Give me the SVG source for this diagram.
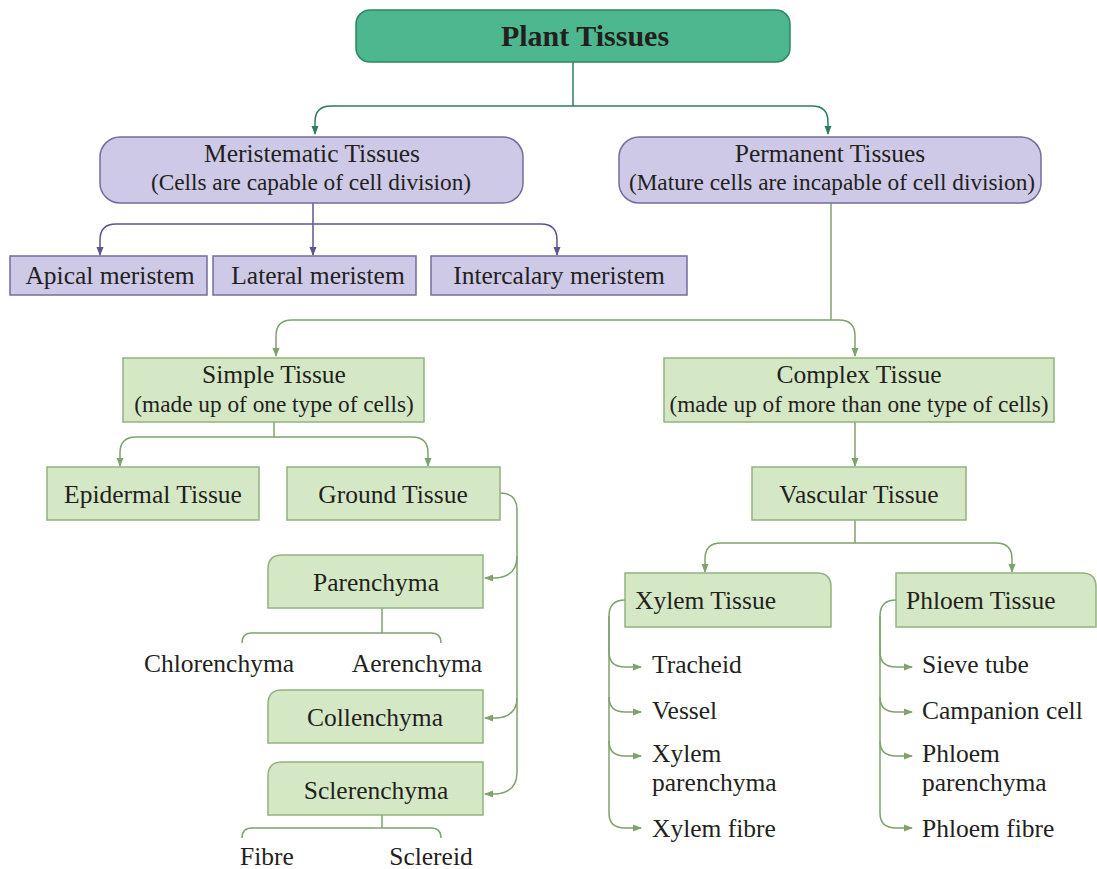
<svg xmlns="http://www.w3.org/2000/svg" width="1097" height="869" viewBox="0 0 1097 869">
<defs>
<style>
text{font-family:"Liberation Serif","Times New Roman",serif;fill:#231f20;font-size:25.5px}
.c{text-anchor:middle}
.sub{font-size:23.3px}
.title{font-weight:bold;font-size:30px}
.lav{fill:#cdc9e6;stroke:#736d9d;stroke-width:1.5}
.grn{fill:#d5e8c5;stroke:#92b27f;stroke-width:1.5}
.top{fill:#4db88f;stroke:#2d8664;stroke-width:1.5}
.lt{fill:none;stroke:#2e7d5e;stroke-width:1.5}
.lp{fill:none;stroke:#5a5690;stroke-width:1.5}
.lg{fill:none;stroke:#7fa36c;stroke-width:1.5}
</style>
<marker id="at" markerWidth="10" markerHeight="10" refX="8" refY="5" orient="auto" markerUnits="userSpaceOnUse"><path d="M0,1.5 L9,5 L0,8.5 Z" fill="#2e7d5e"/></marker>
<marker id="ap" markerWidth="10" markerHeight="10" refX="8" refY="5" orient="auto" markerUnits="userSpaceOnUse"><path d="M0,1.5 L9,5 L0,8.5 Z" fill="#5a5690"/></marker>
<marker id="ag" markerWidth="10" markerHeight="10" refX="8" refY="5" orient="auto" markerUnits="userSpaceOnUse"><path d="M0,1.5 L9,5 L0,8.5 Z" fill="#7fa36c"/></marker>
</defs>
<rect width="1097" height="869" fill="#ffffff"/>

<g id="connectors">
<path class="lt" d="M573,62 V106"/>
<path class="lt" d="M573,106 H331 Q315,106 315,122 V134" marker-end="url(#at)"/>
<path class="lt" d="M573,106 H812 Q828,106 828,122 V134" marker-end="url(#at)"/>

<path class="lp" d="M313,203 V255" marker-end="url(#ap)"/>
<path class="lp" d="M313,224 H116 Q100,224 100,240 V255" marker-end="url(#ap)"/>
<path class="lp" d="M313,224 H541 Q557,224 557,240 V255" marker-end="url(#ap)"/>

<path class="lg" d="M831,203 V320"/>
<path class="lg" d="M831,320 H292 Q276,320 276,336 V356" marker-end="url(#ag)"/>
<path class="lg" d="M831,320 H839 Q855,320 855,336 V356" marker-end="url(#ag)"/>

<path class="lg" d="M274,422 V437"/>
<path class="lg" d="M274,437 H136 Q120,437 120,453 V466" marker-end="url(#ag)"/>
<path class="lg" d="M274,437 H412 Q428,437 428,453 V466" marker-end="url(#ag)"/>

<path class="lg" d="M855,422 V466" marker-end="url(#ag)"/>

<path class="lg" d="M855,520 V543"/>
<path class="lg" d="M855,543 H721 Q705,543 705,559 V572" marker-end="url(#ag)"/>
<path class="lg" d="M855,543 H996 Q1012,543 1012,559 V572" marker-end="url(#ag)"/>

<path class="lg" d="M500,493 Q517,493 517,510 V772 Q517,792 497,794 L485,794" marker-end="url(#ag)"/>
<path class="lg" d="M517,556 Q517,576 497,578 L485,578" marker-end="url(#ag)"/>
<path class="lg" d="M517,698 Q517,716 497,718 L485,718" marker-end="url(#ag)"/>

<path class="lg" d="M382,608 V633 M382,633 H252 Q242,633 242,643 M382,633 H431 Q441,633 441,643"/>
<path class="lg" d="M382,815 V828 M382,828 H252 Q242,828 242,838 M382,828 H431 Q441,828 441,838"/>

<path class="lg" d="M625,600 Q609,600 609,616 V650"/>
<path class="lg" d="M609,616 V652 Q609,667 625,667 L641,667" marker-end="url(#ag)"/>
<path class="lg" d="M609,650 V697 Q609,712 625,712 L641,712" marker-end="url(#ag)"/>
<path class="lg" d="M609,697 V741 Q609,756 625,756 L641,756" marker-end="url(#ag)"/>
<path class="lg" d="M609,741 V813 Q609,828 625,828 L641,828" marker-end="url(#ag)"/>

<path class="lg" d="M896,600 Q880,600 880,616 V650"/>
<path class="lg" d="M880,616 V652 Q880,667 896,667 L912,667" marker-end="url(#ag)"/>
<path class="lg" d="M880,650 V697 Q880,712 896,712 L912,712" marker-end="url(#ag)"/>
<path class="lg" d="M880,697 V741 Q880,756 896,756 L912,756" marker-end="url(#ag)"/>
<path class="lg" d="M880,741 V813 Q880,828 896,828 L912,828" marker-end="url(#ag)"/>
</g>

<g id="plant-tissues">
<rect class="top" x="356" y="10" width="434" height="52" rx="14"/>
<text class="c title" x="585" y="46">Plant Tissues</text>
</g>

<g id="meristematic">
<rect class="lav" x="100" y="137" width="423" height="66" rx="20"/>
<text class="c" x="312" y="162">Meristematic Tissues</text>
<text class="c sub" x="311" y="190">(Cells are capable of cell division)</text>
</g>

<g id="permanent">
<rect class="lav" x="619" y="137" width="422" height="66" rx="20"/>
<text class="c" x="830" y="162">Permanent Tissues</text>
<text class="c sub" x="832" y="190">(Mature cells are incapable of cell division)</text>
</g>

<g id="apical">
<rect class="lav" x="10" y="256" width="197" height="39"/>
<text class="c" x="110" y="284">Apical meristem</text>
</g>
<g id="lateral">
<rect class="lav" x="213" y="256" width="203" height="39"/>
<text class="c" x="318" y="284">Lateral meristem</text>
</g>
<g id="intercalary">
<rect class="lav" x="431" y="256" width="256" height="39"/>
<text class="c" x="559" y="284">Intercalary meristem</text>
</g>

<g id="simple">
<rect class="grn" x="123" y="358" width="301" height="64"/>
<text class="c" x="274" y="383">Simple Tissue</text>
<text class="c sub" x="274" y="412">(made up of one type of cells)</text>
</g>

<g id="complex">
<rect class="grn" x="664" y="358" width="390" height="64"/>
<text class="c" x="859" y="383">Complex Tissue</text>
<text class="c sub" x="859" y="412">(made up of more than one type of cells)</text>
</g>

<g id="epidermal">
<rect class="grn" x="47" y="467" width="212" height="53"/>
<text class="c" x="153" y="503">Epidermal Tissue</text>
</g>
<g id="ground">
<rect class="grn" x="287" y="467" width="213" height="53"/>
<text class="c" x="393" y="503">Ground Tissue</text>
</g>
<g id="vascular">
<rect class="grn" x="752" y="467" width="214" height="53"/>
<text class="c" x="859" y="503">Vascular Tissue</text>
</g>

<g id="parenchyma">
<path class="grn" d="M282,555 H483 V608 H268 V569 Q268,555 282,555 Z"/>
<text class="c" x="376" y="591">Parenchyma</text>
</g>
<g id="chlorenchyma"><text class="c" x="219" y="672">Chlorenchyma</text></g>
<g id="aerenchyma"><text class="c" x="417" y="672">Aerenchyma</text></g>

<g id="collenchyma">
<path class="grn" d="M282,690 H483 V743 H268 V704 Q268,690 282,690 Z"/>
<text class="c" x="375" y="726">Collenchyma</text>
</g>

<g id="sclerenchyma">
<path class="grn" d="M282,762 H483 V815 H268 V776 Q268,762 282,762 Z"/>
<text class="c" x="376" y="799">Sclerenchyma</text>
</g>
<g id="fibre"><text class="c" x="267" y="865">Fibre</text></g>
<g id="sclereid"><text class="c" x="431" y="865">Sclereid</text></g>

<g id="xylem">
<path class="grn" d="M625,573 H817 Q831,573 831,587 V627 H625 Z"/>
<text x="635" y="609">Xylem Tissue</text>
</g>
<g id="phloem">
<path class="grn" d="M896,573 H1082 Q1096,573 1096,587 V627 H896 Z"/>
<text x="906" y="609">Phloem Tissue</text>
</g>

<g id="xylem-items">
<text x="652" y="673">Tracheid</text>
<text x="652" y="719">Vessel</text>
<text x="652" y="762">Xylem</text>
<text x="652" y="791">parenchyma</text>
<text x="652" y="837">Xylem fibre</text>
</g>
<g id="phloem-items">
<text x="922" y="673">Sieve tube</text>
<text x="922" y="719">Campanion cell</text>
<text x="922" y="762">Phloem</text>
<text x="922" y="791">parenchyma</text>
<text x="922" y="837">Phloem fibre</text>
</g>
</svg>
